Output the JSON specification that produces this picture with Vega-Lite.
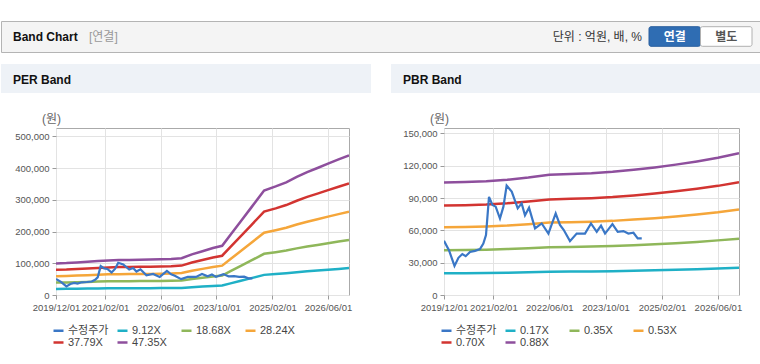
{
  "$schema": "https://vega.github.io/schema/vega-lite/v6.json",
  "background": "#ffffff",
  "padding": {"top": 20, "left": 0, "right": 0, "bottom": 0},
  "config": {
    "font": "Liberation Sans, Noto Sans CJK KR",
    "view": {"stroke": null},
    "axis": {"labelFontSize": 9.5, "labelColor": "#555555", "tickColor": "#9a9a9a", "tickSize": 4, "domain": false, "gridColor": "#e3e3e3", "gridWidth": 1},
    "legend": {"labelFontSize": 11, "labelColor": "#444444", "padding": 0}
  },
  "datasets": {
    "price": [
      {"d": "2019-12-01", "p": 50300}, {"d": "2020-01-13", "p": 41600}, {"d": "2020-03-01", "p": 27000},
      {"d": "2020-04-04", "p": 34500}, {"d": "2020-05-08", "p": 38000}, {"d": "2020-06-06", "p": 36000},
      {"d": "2020-07-13", "p": 40000}, {"d": "2020-08-26", "p": 41000}, {"d": "2020-10-08", "p": 42600},
      {"d": "2020-11-06", "p": 47800}, {"d": "2020-11-29", "p": 55600}, {"d": "2020-12-25", "p": 91000},
      {"d": "2021-01-24", "p": 83600}, {"d": "2021-02-21", "p": 82000}, {"d": "2021-03-30", "p": 71000},
      {"d": "2021-04-29", "p": 82000}, {"d": "2021-05-27", "p": 101500}, {"d": "2021-07-10", "p": 96000},
      {"d": "2021-08-31", "p": 80400}, {"d": "2021-10-04", "p": 85000}, {"d": "2021-11-02", "p": 74000},
      {"d": "2021-12-07", "p": 81000}, {"d": "2022-01-28", "p": 61800}, {"d": "2022-03-27", "p": 66400},
      {"d": "2022-05-24", "p": 57000}, {"d": "2022-07-26", "p": 75700}, {"d": "2022-09-01", "p": 65000},
      {"d": "2022-10-03", "p": 60500}, {"d": "2022-11-27", "p": 50000}, {"d": "2023-01-24", "p": 57000},
      {"d": "2023-04-06", "p": 57000}, {"d": "2023-05-28", "p": 66400}, {"d": "2023-07-17", "p": 58700},
      {"d": "2023-08-23", "p": 64300}, {"d": "2023-09-27", "p": 57000}, {"d": "2023-11-30", "p": 65800},
      {"d": "2024-01-15", "p": 58700}, {"d": "2024-03-04", "p": 59300}, {"d": "2024-04-16", "p": 57000},
      {"d": "2024-05-30", "p": 57800}, {"d": "2024-07-06", "p": 52500}, {"d": "2024-08-10", "p": 52500}
    ],
    "per": [
      {"d": "2019-12-01", "m1": 19200, "m2": 39300, "m3": 59300, "m4": 79400, "m5": 99500},
      {"d": "2020-03-01", "m1": 19400, "m2": 39600, "m3": 59900, "m4": 80200, "m5": 100500},
      {"d": "2020-06-01", "m1": 19700, "m2": 40400, "m3": 61100, "m4": 81800, "m5": 102500},
      {"d": "2020-09-01", "m1": 20100, "m2": 41200, "m3": 62300, "m4": 83400, "m5": 104500},
      {"d": "2020-12-01", "m1": 20600, "m2": 42200, "m3": 63800, "m4": 85400, "m5": 107000},
      {"d": "2021-03-01", "m1": 21000, "m2": 43000, "m3": 65000, "m4": 87000, "m5": 109000},
      {"d": "2021-06-01", "m1": 21200, "m2": 43400, "m3": 65600, "m4": 87800, "m5": 110000},
      {"d": "2021-09-01", "m1": 21300, "m2": 43600, "m3": 65900, "m4": 88200, "m5": 110500},
      {"d": "2021-12-01", "m1": 21400, "m2": 43800, "m3": 66200, "m4": 88600, "m5": 111000},
      {"d": "2022-03-01", "m1": 21500, "m2": 44000, "m3": 66500, "m4": 89000, "m5": 111500},
      {"d": "2022-06-01", "m1": 21700, "m2": 44400, "m3": 67100, "m4": 89800, "m5": 112500},
      {"d": "2022-09-01", "m1": 21900, "m2": 44800, "m3": 67700, "m4": 90600, "m5": 113500},
      {"d": "2022-12-01", "m1": 22300, "m2": 45800, "m3": 69200, "m4": 92600, "m5": 116000},
      {"d": "2023-03-01", "m1": 24700, "m2": 50500, "m3": 76300, "m4": 102200, "m5": 128000},
      {"d": "2023-06-01", "m1": 26600, "m2": 54400, "m3": 82300, "m4": 110100, "m5": 138000},
      {"d": "2023-09-01", "m1": 28500, "m2": 58400, "m3": 88300, "m4": 118100, "m5": 148000},
      {"d": "2023-11-20", "m1": 29900, "m2": 61100, "m3": 92400, "m4": 123700, "m5": 155000},
      {"d": "2024-02-01", "m1": 36600, "m2": 75000, "m3": 113300, "m4": 151600, "m5": 190000},
      {"d": "2024-05-01", "m1": 44700, "m2": 91500, "m3": 138400, "m4": 185200, "m5": 232000},
      {"d": "2024-08-01", "m1": 53200, "m2": 108900, "m3": 164600, "m4": 220300, "m5": 276000},
      {"d": "2024-11-20", "m1": 63400, "m2": 129800, "m3": 196200, "m4": 262600, "m5": 329000},
      {"d": "2025-03-01", "m1": 65900, "m2": 134900, "m3": 204000, "m4": 272900, "m5": 342000},
      {"d": "2025-06-01", "m1": 68400, "m2": 140000, "m3": 211700, "m4": 283300, "m5": 355000},
      {"d": "2025-09-01", "m1": 71600, "m2": 146800, "m3": 221900, "m4": 296900, "m5": 372000},
      {"d": "2025-12-01", "m1": 74500, "m2": 152700, "m3": 230800, "m4": 308900, "m5": 387000},
      {"d": "2026-03-01", "m1": 77000, "m2": 157800, "m3": 238600, "m4": 319200, "m5": 400000},
      {"d": "2026-06-01", "m1": 79700, "m2": 163300, "m3": 246900, "m4": 330400, "m5": 414000},
      {"d": "2026-09-01", "m1": 82200, "m2": 168500, "m3": 254700, "m4": 340800, "m5": 427000},
      {"d": "2026-12-01", "m1": 84700, "m2": 173600, "m3": 262400, "m4": 351200, "m5": 440000}
    ],
    "pbr": [
      {"d": "2019-12-01", "m1": 20200, "m2": 41500, "m3": 62800, "m4": 83000, "m5": 104300},
      {"d": "2020-06-01", "m1": 20300, "m2": 41700, "m3": 63200, "m4": 83400, "m5": 104900},
      {"d": "2020-12-01", "m1": 20400, "m2": 42000, "m3": 63600, "m4": 84000, "m5": 105600},
      {"d": "2021-06-01", "m1": 20700, "m2": 42600, "m3": 64400, "m4": 85100, "m5": 107000},
      {"d": "2021-12-01", "m1": 21100, "m2": 43300, "m3": 65700, "m4": 86700, "m5": 109000},
      {"d": "2022-06-01", "m1": 21500, "m2": 44300, "m3": 67200, "m4": 88700, "m5": 111500},
      {"d": "2022-12-01", "m1": 21700, "m2": 44600, "m3": 67600, "m4": 89300, "m5": 112200},
      {"d": "2023-06-01", "m1": 21800, "m2": 44900, "m3": 68100, "m4": 89900, "m5": 113000},
      {"d": "2023-12-01", "m1": 22100, "m2": 45500, "m3": 68800, "m4": 90900, "m5": 114300},
      {"d": "2024-06-01", "m1": 22400, "m2": 46200, "m3": 70000, "m4": 92400, "m5": 116200},
      {"d": "2024-12-01", "m1": 22900, "m2": 47100, "m3": 71300, "m4": 94200, "m5": 118400},
      {"d": "2025-06-01", "m1": 23400, "m2": 48100, "m3": 72900, "m4": 96300, "m5": 121000},
      {"d": "2025-12-01", "m1": 24000, "m2": 49300, "m3": 74700, "m4": 98600, "m5": 124000},
      {"d": "2026-06-01", "m1": 24600, "m2": 50700, "m3": 76700, "m4": 101300, "m5": 127400},
      {"d": "2026-12-01", "m1": 25400, "m2": 52300, "m3": 79300, "m4": 104700, "m5": 131600}
    ]
  },
  "resolve": {"scale": {"x": "independent", "y": "independent", "color": "independent"}, "legend": {"color": "independent"}, "axis": {"x": "independent", "y": "independent"}},
  "columns": 1,
  "align": "none",
  "spacing": 11,
  "concat": [
    {
      "width": 760,
      "height": 31,
      "view": {"fill": "#f4f4f4", "stroke": "#b4b4b4"},
      "layer": [
        {
          "data": {"values": [{"t": "Band Chart"}]},
          "mark": {"type": "text", "align": "left", "baseline": "middle", "dx": -368, "fontSize": 12, "fontWeight": "bold", "color": "#111111"},
          "encoding": {"text": {"field": "t"}}
        },
        {
          "data": {"values": [{"t": "[연결]"}]},
          "mark": {"type": "text", "align": "left", "baseline": "middle", "dx": -292, "fontSize": 12, "color": "#999999"},
          "encoding": {"text": {"field": "t"}}
        },
        {
          "data": {"values": [{"t": "단위 : 억원, 배, %"}]},
          "mark": {"type": "text", "align": "right", "baseline": "middle", "dx": 261, "fontSize": 12, "color": "#333333"},
          "encoding": {"text": {"field": "t"}}
        },
        {
          "data": {"values": [{"b": "연결"}, {"b": "별도"}]},
          "mark": {"type": "bar", "strokeWidth": 1, "cornerRadius": 2},
          "encoding": {
            "x": {"field": "b", "type": "nominal", "sort": null, "scale": {"domain": ["연결", "별도"], "range": [648, 751], "paddingInner": 0, "paddingOuter": 0}, "axis": null},
            "y": {"datum": "btn", "type": "nominal", "scale": {"paddingOuter": 0.29, "paddingInner": 0}, "axis": null},
            "fill": {"condition": {"test": "datum.b == '연결'", "value": "#2f6db3"}, "value": "#ffffff"},
            "stroke": {"condition": {"test": "datum.b == '연결'", "value": "#2a5f9e"}, "value": "#b0b0b0"}
          }
        },
        {
          "data": {"values": [{"b": "연결"}, {"b": "별도"}]},
          "mark": {"type": "text", "fontSize": 12, "fontWeight": "bold", "baseline": "middle"},
          "encoding": {
            "x": {"field": "b", "type": "nominal", "sort": null},
            "y": {"datum": "btn", "type": "nominal"},
            "text": {"field": "b"},
            "color": {"condition": {"test": "datum.b == '연결'", "value": "#ffffff"}, "value": "#555555"}
          }
        }
      ]
    },
    {
      "spacing": 20,
      "resolve": {"scale": {"x": "independent", "y": "independent", "color": "independent"}, "legend": {"color": "independent"}, "axis": {"x": "independent", "y": "independent"}},
      "hconcat": [
        {
          "columns": 1,
          "align": "none",
          "spacing": 18,
          "resolve": {"scale": {"color": "independent"}, "legend": {"color": "independent"}},
          "concat": [
            {
              "width": 370,
              "height": 29,
              "view": {"fill": "#eef2f7", "stroke": null},
              "data": {"values": [{"t": "PER Band"}]},
              "mark": {"type": "text", "align": "left", "baseline": "middle", "dx": -173, "dy": 1, "fontSize": 12, "fontWeight": "bold", "color": "#111111"},
              "encoding": {"text": {"field": "t"}}
            },
            {
              "spacing": 0,
              "resolve": {"scale": {"color": "independent"}, "legend": {"color": "independent"}},
              "hconcat": [
                {
                  "width": 1,
                  "height": 1,
                  "data": {"values": [{"t": ""}]},
                  "mark": {"type": "text"},
                  "encoding": {"text": {"field": "t"}}
                },
                {
                  "width": 293,
                  "height": 167,
                  "view": {"fill": "#ffffff", "stroke": "#aaaaaa"},
                  "layer": [
                    {
                      "data": {"name": "per"},
                      "transform": [{"fold": ["m1", "m2", "m3", "m4", "m5"], "as": ["s", "v"]}],
                      "mark": {"type": "line", "strokeWidth": 2.5, "clip": true},
                      "encoding": {
                        "x": {"field": "d", "type": "temporal",
                          "scale": {"type": "utc", "domain": [{"year": 2019, "month": 12, "date": 1, "utc": true}, {"year": 2026, "month": 12, "date": 1, "utc": true}]},
                          "axis": {"title": null, "format": "%Y/%m/%d", "labelFlush": false, "labelOverlap": false, "labelPadding": 3, "tickCount": 20,
                            "values": [{"year": 2019, "month": 12, "date": 1, "utc": true}, {"year": 2021, "month": 2, "date": 1, "utc": true}, {"year": 2022, "month": 6, "date": 1, "utc": true}, {"year": 2023, "month": 10, "date": 1, "utc": true}, {"year": 2025, "month": 2, "date": 1, "utc": true}, {"year": 2026, "month": 6, "date": 1, "utc": true}]}},
                        "y": {"field": "v", "type": "quantitative",
                          "scale": {"domain": [0, 526000], "nice": false},
                          "axis": {"title": "(원)", "titleAngle": 0, "titleX": -5, "titleY": -10, "titleAlign": "center", "titleBaseline": "middle", "titleFontSize": 12, "titleFontWeight": "normal", "titleColor": "#666666", "format": ",d", "labelOverlap": false, "tickCount": 20, "values": [0, 100000, 200000, 300000, 400000, 500000], "minExtent": 53, "labelPadding": 3}},
                        "color": {"field": "s", "type": "nominal",
                          "scale": {"domain": ["수정주가", "m1", "m2", "m3", "m4", "m5"], "range": ["#3a77c6", "#1fb0c6", "#8fb75a", "#f5a63a", "#d23431", "#8e4f9d"]},
                          "legend": {"title": null, "orient": "bottom", "direction": "horizontal", "columns": 4, "gridAlign": "all", "symbolType": "stroke", "symbolSize": 100, "symbolStrokeWidth": 2.5, "symbolOffset": -4, "columnPadding": 3, "rowPadding": 0, "offset": 12, "labelOffset": 3,
                            "labelExpr": "datum.label == 'm1' ? '9.12X' : datum.label == 'm2' ? '18.68X' : datum.label == 'm3' ? '28.24X' : datum.label == 'm4' ? '37.79X' : datum.label == 'm5' ? '47.35X' : datum.label"}}
                      }
                    },
                    {
                      "data": {"name": "price"},
                      "mark": {"type": "line", "strokeWidth": 2.2, "clip": true},
                      "encoding": {
                        "x": {"field": "d", "type": "temporal"},
                        "y": {"field": "p", "type": "quantitative"},
                        "color": {"datum": "수정주가"}
                      }
                    }
                  ]
                }
              ]
            }
          ]
        },
        {
          "columns": 1,
          "align": "none",
          "spacing": 18,
          "resolve": {"scale": {"color": "independent"}, "legend": {"color": "independent"}},
          "concat": [
            {
              "width": 370,
              "height": 29,
              "view": {"fill": "#eef2f7", "stroke": null},
              "data": {"values": [{"t": "PBR Band"}]},
              "mark": {"type": "text", "align": "left", "baseline": "middle", "dx": -173, "dy": 1, "fontSize": 12, "fontWeight": "bold", "color": "#111111"},
              "encoding": {"text": {"field": "t"}}
            },
            {
              "spacing": 0,
              "resolve": {"scale": {"color": "independent"}, "legend": {"color": "independent"}},
              "hconcat": [
                {
                  "width": 1,
                  "height": 1,
                  "data": {"values": [{"t": ""}]},
                  "mark": {"type": "text"},
                  "encoding": {"text": {"field": "t"}}
                },
                {
                  "width": 295,
                  "height": 167,
                  "view": {"fill": "#ffffff", "stroke": "#aaaaaa"},
                  "layer": [
                    {
                      "data": {"name": "pbr"},
                      "transform": [{"fold": ["m1", "m2", "m3", "m4", "m5"], "as": ["s", "v"]}],
                      "mark": {"type": "line", "strokeWidth": 2.5, "clip": true},
                      "encoding": {
                        "x": {"field": "d", "type": "temporal",
                          "scale": {"type": "utc", "domain": [{"year": 2019, "month": 12, "date": 1, "utc": true}, {"year": 2026, "month": 12, "date": 1, "utc": true}]},
                          "axis": {"title": null, "format": "%Y/%m/%d", "labelFlush": false, "labelOverlap": false, "labelPadding": 3, "tickCount": 20,
                            "values": [{"year": 2019, "month": 12, "date": 1, "utc": true}, {"year": 2021, "month": 2, "date": 1, "utc": true}, {"year": 2022, "month": 6, "date": 1, "utc": true}, {"year": 2023, "month": 10, "date": 1, "utc": true}, {"year": 2025, "month": 2, "date": 1, "utc": true}, {"year": 2026, "month": 6, "date": 1, "utc": true}]}},
                        "y": {"field": "v", "type": "quantitative",
                          "scale": {"domain": [0, 155000], "nice": false},
                          "axis": {"title": "(원)", "titleAngle": 0, "titleX": -5, "titleY": -10, "titleAlign": "center", "titleBaseline": "middle", "titleFontSize": 12, "titleFontWeight": "normal", "titleColor": "#666666", "format": ",d", "labelOverlap": false, "tickCount": 20, "values": [0, 30000, 60000, 90000, 120000, 150000], "minExtent": 51, "labelPadding": 3}},
                        "color": {"field": "s", "type": "nominal",
                          "scale": {"domain": ["수정주가", "m1", "m2", "m3", "m4", "m5"], "range": ["#3a77c6", "#1fb0c6", "#8fb75a", "#f5a63a", "#d23431", "#8e4f9d"]},
                          "legend": {"title": null, "orient": "bottom", "direction": "horizontal", "columns": 4, "gridAlign": "all", "symbolType": "stroke", "symbolSize": 100, "symbolStrokeWidth": 2.5, "symbolOffset": -4, "columnPadding": 3, "rowPadding": 0, "offset": 12, "labelOffset": 3,
                            "labelExpr": "datum.label == 'm1' ? '0.17X' : datum.label == 'm2' ? '0.35X' : datum.label == 'm3' ? '0.53X' : datum.label == 'm4' ? '0.70X' : datum.label == 'm5' ? '0.88X' : datum.label"}}
                      }
                    },
                    {
                      "data": {"name": "price"},
                      "mark": {"type": "line", "strokeWidth": 2.2, "clip": true},
                      "encoding": {
                        "x": {"field": "d", "type": "temporal"},
                        "y": {"field": "p", "type": "quantitative"},
                        "color": {"datum": "수정주가"}
                      }
                    }
                  ]
                }
              ]
            }
          ]
        }
      ]
    }
  ]
}
